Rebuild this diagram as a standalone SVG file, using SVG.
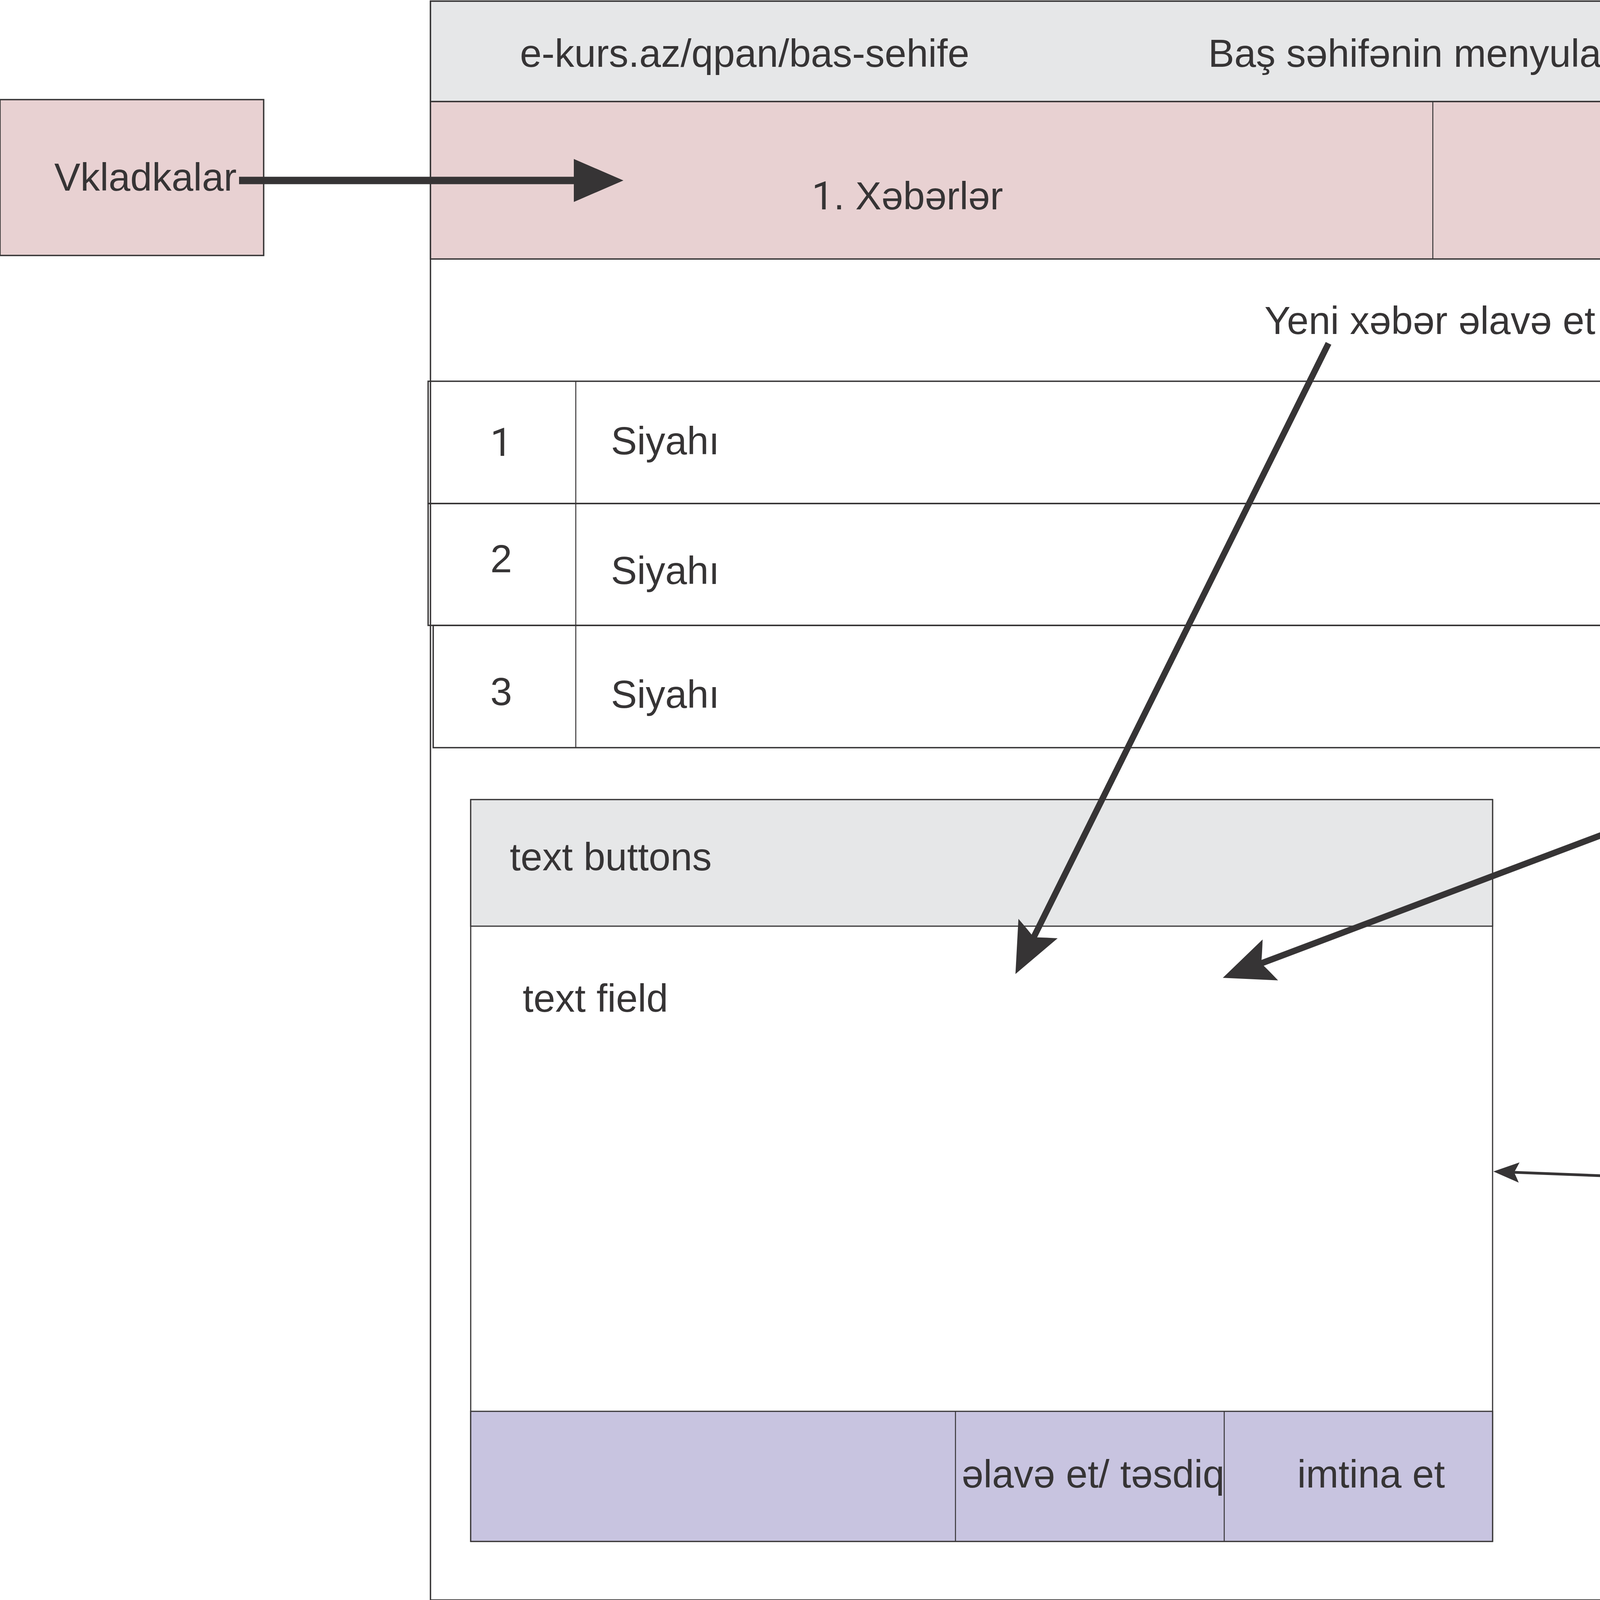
<svg xmlns="http://www.w3.org/2000/svg" width="6248" height="5206" viewBox="0 0 6248 5206">
<style>
text{font-family:"Liberation Sans",Arial,sans-serif;font-size:100px;fill:#363435}
.one{font-family:Roboto,"Liberation Sans",sans-serif}
.b{stroke:#363435;stroke-width:3.5;fill:none}
.t{stroke:#363435;stroke-width:2.5;fill:none}
.gray{fill:#e6e7e8;stroke:#363435;stroke-width:3.5}
.pink{fill:#e8d1d2;stroke:#363435;stroke-width:3.5}
.purp{fill:#c8c4e0;stroke:#363435;stroke-width:3}
.wh{fill:#fff;stroke:#363435;stroke-width:3}
.c{stroke:#363435;fill:none}
</style>
<defs>
<marker id="tri" markerUnits="userSpaceOnUse" viewBox="-130 -60 135 120" refX="-120" refY="0" markerWidth="135" markerHeight="120" orient="auto" overflow="visible">
<path d="M0,0 L-127,-55 L-127,55 Z" fill="#363435"/>
</marker>
<marker id="big" markerUnits="userSpaceOnUse" viewBox="-135 -60 140 120" refX="-100" refY="0" markerWidth="140" markerHeight="120" orient="auto" overflow="visible">
<path d="M0,0 L-130,-56 Q-114,-18 -105,0 Q-114,18 -130,56 Z" fill="#363435"/>
</marker>
<marker id="small" markerUnits="userSpaceOnUse" viewBox="-70 -30 75 60" refX="-50" refY="0" markerWidth="75" markerHeight="60" orient="auto" overflow="visible">
<path d="M0,0 L-66,-26 Q-58,-9 -53,0 Q-58,9 -66,26 Z" fill="#363435"/>
</marker>
</defs>
<rect width="6248" height="5206" fill="#fff"/>

<g id="frame">
<rect class="b" x="1102" y="3" width="5134" height="5197"/>
<line class="b" x1="1102" y1="4096" x2="6236" y2="4096"/>
</g>

<g id="header">
<rect class="gray" x="1102" y="3" width="5134" height="257"/>
<text x="1331" y="171">e-kurs.az/qpan/bas-sehife</text>
<text x="3093" y="171">Baş səhifənin menyuları və xəbərlər</text>
</g>

<g id="tabs">
<rect class="pink" x="1102" y="260" width="5134" height="403"/>
<line class="t" x1="3668" y1="260" x2="3668" y2="663"/>
<text x="2078" y="536"><tspan class="one">1</tspan>. Xəbərlər</text>
<text x="4546" y="462">2. baş səhifənin</text>
<text x="4546" y="574">menyuları</text>
</g>

<g id="vkladkalar">
<rect class="pink" x="0" y="255" width="675" height="399"/>
<text x="139" y="488">Vkladkalar</text>
</g>

<g id="yeni-label">
<text x="3237" y="855">Yeni xəbər əlavə et</text>
</g>

<g id="list">
<rect class="b" x="1096" y="976" width="5148" height="313"/>
<rect class="b" x="1096" y="1289" width="5148" height="312"/>
<rect class="b" x="1109" y="1601" width="5135" height="313"/>
<line class="t" x1="1474" y1="976" x2="1474" y2="1914"/>
<text class="one" x="1283" y="1167" text-anchor="middle">1</text>
<text x="1283" y="1465" text-anchor="middle">2</text>
<text x="1283" y="1805" text-anchor="middle">3</text>
<text x="1564" y="1163">Siyahı</text>
<text x="1564" y="1495">Siyahı</text>
<text x="1564" y="1812">Siyahı</text>
</g>

<g id="buttons">
<rect class="t" x="4759" y="972" width="1470" height="312"/>
<rect class="t" x="4759" y="1289" width="1470" height="311"/>
<rect class="t" x="4759" y="1607" width="1470" height="312"/>
<line class="t" x1="5495" y1="972" x2="5495" y2="1919"/>
<text x="4954" y="1174">Redaktə</text>
<text x="4954" y="1479">Redaktə</text>
<text x="4954" y="1785">Redaktə</text>
<text x="5823" y="1174">Sil</text>
<text x="5823" y="1477">Sil</text>
<text x="5823" y="1784">Sil</text>
</g>

<g id="dialog">
<rect class="wh" x="1205" y="2047" width="2616" height="1899"/>
<rect class="gray" x="1205" y="2047" width="2616" height="324" style="stroke-width:3"/>
<rect class="purp" x="1205" y="3613" width="2616" height="333"/>
<line class="t" x1="2446" y1="3613" x2="2446" y2="3946"/>
<line class="t" x1="3134" y1="3613" x2="3134" y2="3946"/>
<text x="1305" y="2228">text buttons</text>
<text x="1338" y="2590">text field</text>
<text x="2462" y="3808">əlavə et/ təsdiq</text>
<text x="3321" y="3808">imtina et</text>
</g>

<g id="tesdiq">
<rect class="wh" x="4706" y="2264" width="1172" height="383"/>
<rect class="gray" x="4706" y="2264" width="1172" height="191" style="stroke-width:3"/>
<line class="t" x1="5291" y1="2455" x2="5291" y2="2647"/>
<text x="4968" y="2390">təsdiq pəncərəsi</text>
<text x="4924" y="2570">hə</text>
<text x="5538" y="2576">yox</text>
</g>

<g id="pencere">
<rect class="wh" x="4153" y="2963" width="545" height="368" style="stroke-width:2.5"/>
<rect class="gray" x="4153" y="2963" width="545" height="100" style="stroke-width:2.5"/>
<text x="4276" y="3206">pəncərə</text>
</g>

<g id="connectors">
<line class="c" x1="612" y1="462" x2="1476" y2="462" stroke-width="19" marker-end="url(#tri)"/>
<line class="c" x1="3401" y1="879" x2="2644" y2="2404" stroke-width="16" marker-end="url(#big)"/>
<line class="c" x1="4815" y1="1868" x2="3224" y2="2468" stroke-width="16" marker-end="url(#big)"/>
<line class="c" x1="5889" y1="1826" x2="5534" y2="2223" stroke-width="16" marker-end="url(#big)"/>
<line class="c" x1="4153" y1="3012" x2="3873" y2="3001" stroke-width="7" marker-end="url(#small)"/>
<line class="c" x1="4698" y1="3014" x2="4949" y2="2687" stroke-width="7" marker-end="url(#small)"/>
</g>

<g id="note">
<text x="1254" y="4270">Qeyd: Xəbərlərdə “Drag-and-drop” funksiyası olmalıdır. Baş səhifənin menyularında isə yox. Yeni xəbərlər</text>
<text x="1549" y="4382">yuxarıdan aşağı istiqamətdə yerləşdirilməlidir. Səhifədə göstərilən səhifələrin sayı məhdud olmalıdır.</text>
<text x="1549" y="4494">Aşağı hissədə <tspan class="one">1</tspan>-2-3-n səhifələrə keçid olmalıdır. Hal-hazırda hansı səhifədə olmağıvı fərqləndirilməlidir.</text>
<text x="1549" y="4606">(misal üçün 2 səhifədə olanda) <tspan class="one">1</tspan>-<tspan font-weight="bold" text-decoration="underline">2</tspan>-3-n. “vkladkalar” iki menyu arasında keçid kimi istifadə olunacaq.</text>
<text x="1549" y="4718">Vurulan “vkladkanin” “kontenti” vkladkaların altında açılacaq. “Sil, redaktə, yeni xəbər əlavə et” pəncərədə</text>
<text x="1549" y="4830">açılacaq. Baş səhifəsinin menyuları hal-hazırda e-kurs.az/qpan “Əsas Menyu” “Menyular” bölməsindədir.</text>
<text x="1549" y="4942">Baş səhifənin menyularında ancaq redaktə düyməsi olacaq.</text>
</g>

<g id="page-number">
<text x="5807" y="5206" style="font-family:Roboto,sans-serif;font-size:630px;font-weight:bold;stroke:#fff;stroke-width:16;paint-order:stroke">1</text>
</g>
</svg>
